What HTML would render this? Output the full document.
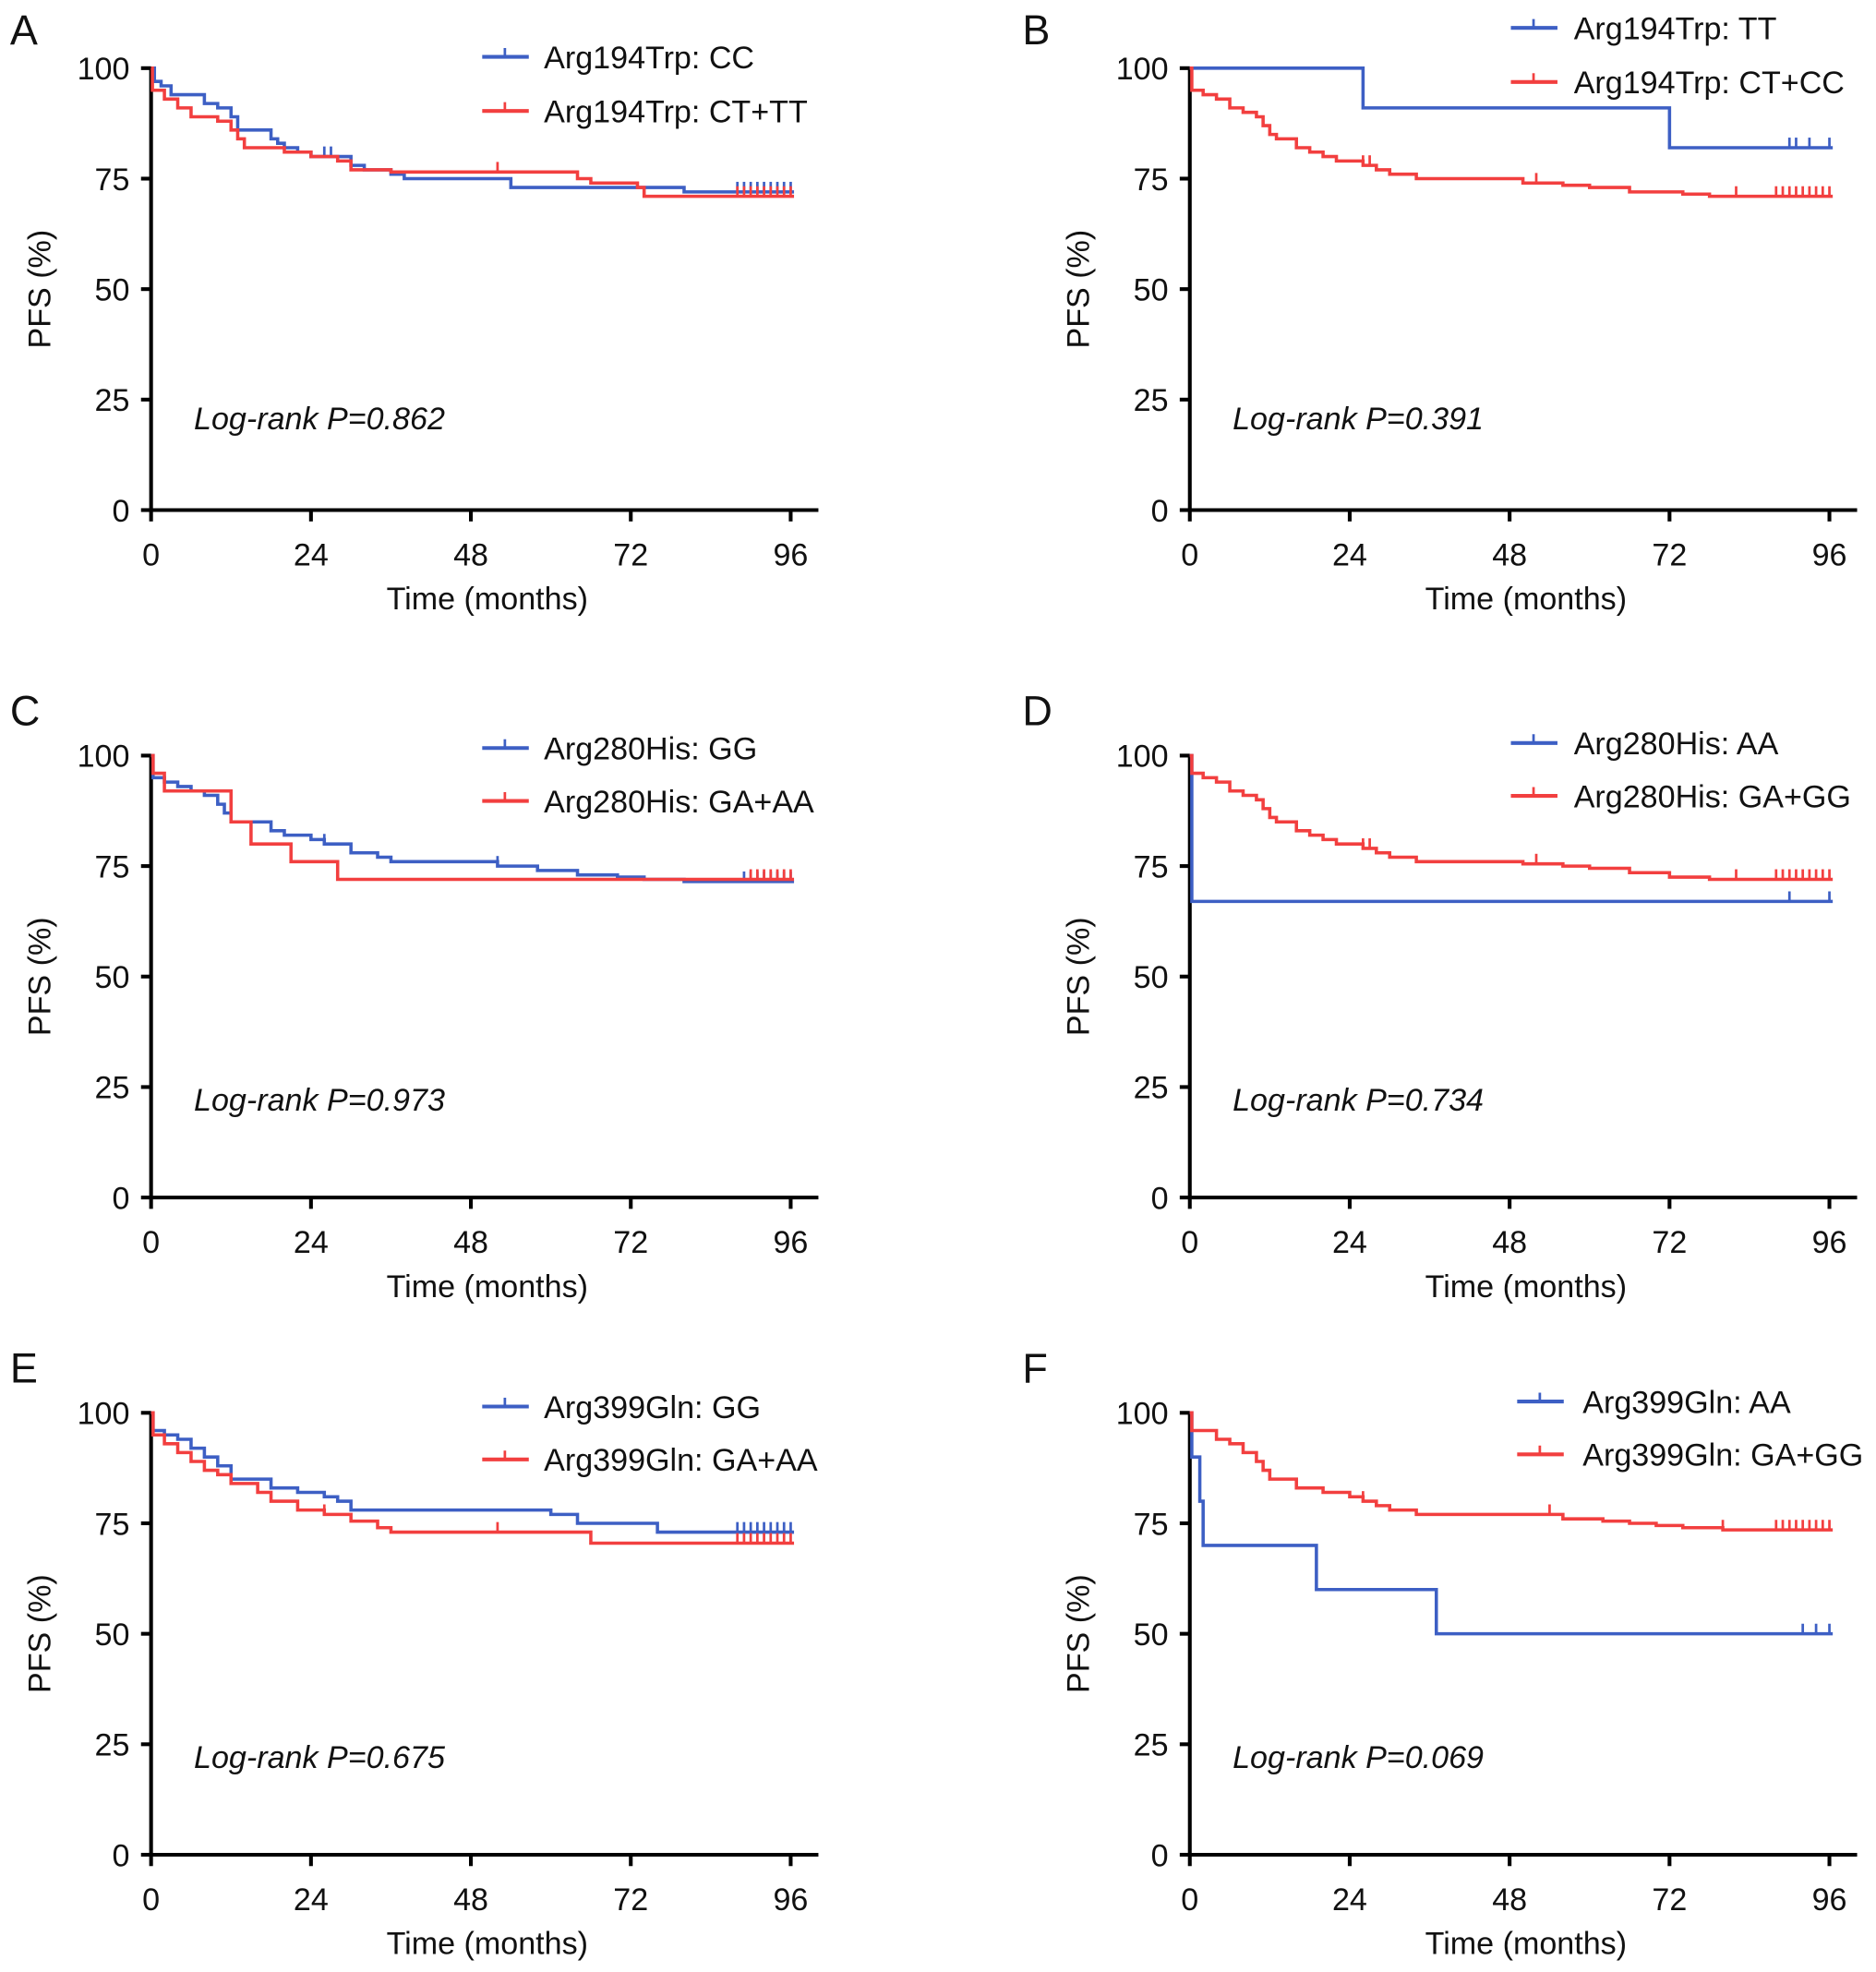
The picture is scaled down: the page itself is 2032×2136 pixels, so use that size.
<!DOCTYPE html>
<html><head><meta charset="utf-8"><style>
html,body{margin:0;padding:0;background:#fff}
svg{display:block}
text{font-family:"Liberation Sans",Arial,sans-serif;fill:#111}
</style></head><body>
<svg id="fig" width="2032" height="2136" viewBox="0 0 1490 1566" xmlns="http://www.w3.org/2000/svg"></svg>
<script>
// ---- data (time in months, PFS %) ----
const xTicks = [0, 24, 48, 72, 96];
const yTicks = [0, 25, 50, 75, 100];
const panelLetters = ["A","B","C","D","E","F"];
const pValues = ["0.862","0.391","0.973","0.734","0.675","0.069"];
const blueLabels = ["Arg194Trp: CC","Arg194Trp: TT","Arg280His: GG","Arg280His: AA","Arg399Gln: GG","Arg399Gln: AA"];
const redLabels = ["Arg194Trp: CT+TT","Arg194Trp: CT+CC","Arg280His: GA+AA","Arg280His: GA+GG","Arg399Gln: GA+AA","Arg399Gln: GA+GG"];

const blueTimesA = [0,0.5,1.5,3,8,10,12,13,18,19,20,22,24,30,32,36,38,54,80];
const blueValsA  = [100,97,96,94,92,91,89,86,84,83,82,81,80,78,77,76,75,73,72];
const blueCensA  = [26,27,88,89,90,91,92,93,94,95,96];
const redTimesA  = [0,0.2,2,4,6,10,12,13,14,20,24,28,30,36,64,66,73,74];
const redValsA   = [100,95,93,91,89,88,86,84,82,81,80,79,77,76.5,75,74,73,71];
const redCensA   = [52,88,89,90,91,92,93,94,95,96];

const blueTimesB = [0,26,72];
const blueValsB  = [100,91,82];
const blueCensB  = [90,91,93,96];
const redTimesB  = [0,0.3,2,4,6,8,10,11,12,13,16,18,20,22,26,28,30,34,50,56,60,66,74,78];
const redValsB   = [100,95,94,93,91,90,89,87,85,84,82,81,80,79,78,77,76,75,74,73.5,73,72,71.5,71];
const redCensB   = [26,27,52,82,88,89,90,91,92,93,94,95,96];

const blueTimesC = [0,0.3,2,4,6,8,10,11,12,18,20,24,26,30,34,36,52,58,64,70,74,80];
const blueValsC  = [100,95,94,93,92,91,89,87,85,83,82,81,80,78,77,76,75,74,73,72.5,72,71.5];
const blueCensC  = [26,52,89,90,91,92,93,94,95,96];
const redTimesC  = [0,0.3,2,12,15,21,28];
const redValsC   = [100,96,92,85,80,76,72];
const redCensC   = [90,91,92,93,94,95,96];

const blueTimesD = [0,0.3];
const blueValsD  = [100,67];
const blueCensD  = [90,96];
const redTimesD  = [0,0.3,2,4,6,8,10,11,12,13,16,18,20,22,26,28,30,34,50,56,60,66,72,78];
const redValsD   = [100,96,95,94,92,91,90,88,86,85,83,82,81,80,79,78,77,76,75.5,75,74.5,73.5,72.5,72];
const redCensD   = [26,27,52,82,88,89,90,91,92,93,94,95,96];

const blueTimesE = [0,0.3,2,4,6,8,10,12,18,22,26,28,30,60,64,76];
const blueValsE  = [100,96,95,94,92,90,88,85,83,82,81,80,78,77,75,73];
const blueCensE  = [88,89,90,91,92,93,94,95,96];
const redTimesE  = [0,0.3,2,4,6,8,10,12,16,18,22,26,30,34,36,66];
const redValsE   = [100,95,93,91,89,87,86,84,82,80,78,77,75.5,74,73,70.5];
const redCensE   = [26,52,88,89,90,91,92,93,94,95,96];

const blueTimesF = [0,0.3,1.5,2,19,37];
const blueValsF  = [100,90,80,70,60,50];
const blueCensF  = [92,94,96];
const redTimesF  = [0,0.3,4,6,8,10,11,12,16,20,24,26,28,30,34,56,62,66,70,74,80];
const redValsF   = [100,96,94,93,91,89,87,85,83,82,81,80,79,78,77,76,75.5,75,74.5,74,73.5];
const redCensF   = [26,54,80,88,89,90,91,92,93,94,95,96];

const panelsData = [
 [blueTimesA,blueValsA,blueCensA,redTimesA,redValsA,redCensA],
 [blueTimesB,blueValsB,blueCensB,redTimesB,redValsB,redCensB],
 [blueTimesC,blueValsC,blueCensC,redTimesC,redValsC,redCensC],
 [blueTimesD,blueValsD,blueCensD,redTimesD,redValsD,redCensD],
 [blueTimesE,blueValsE,blueCensE,redTimesE,redValsE,redCensE],
 [blueTimesF,blueValsF,blueCensF,redTimesF,redValsF,redCensF]
];

const NS="http://www.w3.org/2000/svg";
const svg=document.getElementById('fig');
function mk(tag,attrs,parent){const e=document.createElementNS(NS,tag);for(const k in attrs)e.setAttribute(k,attrs[k]);(parent||svg).appendChild(e);return e;}
const BLUE="#3d5fc4", RED="#f23f3f";
const rowTop=[54,600,1122];
const pOff=[287,282,282];
const legendY=[[45,88],[22,65],[594,636],[590,632],[1117,1159],[1113,1155]];
const FS=25;

panelsData.forEach((d,i)=>{
  const col=i%2,row=Math.floor(i/2);
  const x0=col?945:120, y100=rowTop[row], y0=y100+351;
  const xs=t=>x0+t*(508/96);
  const ys=v=>y0-v*(y0-y100)/100;
  const g=mk('g',{});
  
  
  const L=mk('text',{x:col?812:8,y:(row===0?35:rowTop[row]-24),'font-size':33},g);
  L.textContent=panelLetters[i];
  
  
  const ax=mk('path',{d:`M${x0},${y100} V${y0} H${x0+530}`,stroke:'#000','stroke-width':3,fill:'none'},g);
  
  
  yTicks.forEach(v=>{
    mk('line',{x1:x0-8,x2:x0,y1:ys(v),y2:ys(v),stroke:'#000','stroke-width':3},g);
    const t=mk('text',{x:x0-17,y:ys(v)+9,'font-size':FS,'text-anchor':'end'},g);
    t.textContent=v;
    
    
  });
  xTicks.forEach(v=>{
    mk('line',{x1:xs(v),x2:xs(v),y1:y0,y2:y0+9,stroke:'#000','stroke-width':3},g);
    const t=mk('text',{x:xs(v),y:y0+44,'font-size':FS,'text-anchor':'middle'},g);
    t.textContent=v;
    
    
  });
  const xt=mk('text',{x:x0+267,y:y0+79,'font-size':FS,'text-anchor':'middle'},g);
  xt.textContent='Time (months)';
  
  
  const yt=mk('text',{x:0,y:0,'font-size':FS,'text-anchor':'middle',transform:`translate(${x0-80},${(y0+y100)/2}) rotate(-90)`},g);
  yt.textContent='PFS (%)';
  
  
  const pt=mk('text',{x:x0+34,y:y100+pOff[row],'font-size':FS,'font-style':'italic'},g);
  pt.textContent='Log-rank P='+pValues[i];
  
  
  [[d[0],d[1],d[2],BLUE,'blue'],[d[3],d[4],d[5],RED,'red']].forEach(([T,V,C,color,nm])=>{
    let p=`M${xs(T[0])},${ys(V[0])}`;
    for(let k=1;k<T.length;k++){p+=` H${xs(T[k])} V${ys(V[k])}`;}
    p+=` H${xs(96.5)}`;
    const c=mk('path',{d:p,stroke:color,'stroke-width':2.6,fill:'none'},g);
    
    
    C.forEach(ct=>{
      let v=V[0];for(let k=0;k<T.length;k++){if(T[k]<=ct)v=V[k];}
      const m=mk('line',{x1:xs(ct),x2:xs(ct),y1:ys(v),y2:ys(v)-8,stroke:color,'stroke-width':2},g);
      
      
    });
  });
  const lx=col?(i===5?1205:1200):383, tx=col?(i===5?1257:1250):432;
  [[BLUE,blueLabels[i],legendY[i][0],'blue'],[RED,redLabels[i],legendY[i][1],'red']].forEach(([color,lab,y,nm])=>{
    const lg=mk('g',{},g);
    
    
    mk('line',{x1:lx,x2:lx+37,y1:y,y2:y,stroke:color,'stroke-width':3},lg);
    mk('line',{x1:lx+18,x2:lx+18,y1:y,y2:y-7,stroke:color,'stroke-width':2},lg);
    const t=mk('text',{x:tx,y:y+9,'font-size':FS},lg);
    t.textContent=lab;
  });
});
</script>
</body></html>
